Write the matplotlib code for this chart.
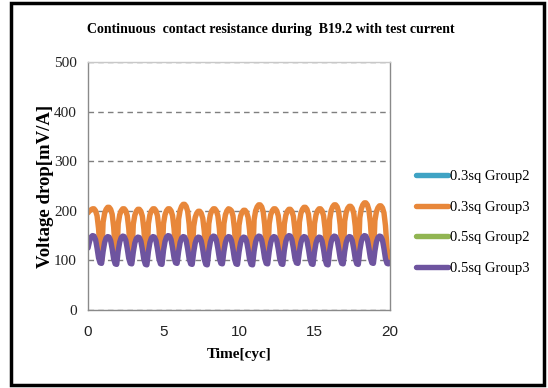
import numpy as np
import matplotlib
matplotlib.use("Agg")
import matplotlib.pyplot as plt
from matplotlib.patches import Rectangle

# ---- data -------------------------------------------------------------
time_cyc = np.linspace(0, 20, 201)          # sampled every 0.1 cycle

series_names = ["0.3sq Group2", "0.3sq Group3", "0.5sq Group2", "0.5sq Group3"]

# 0.3sq Group2 and 0.5sq Group2 carry no readings
g2_03 = []
g2_05 = []

# 0.3sq Group3, one row per cycle (10 samples), plus the final sample at 20
g3_03 = [
    196, 200, 202, 204, 204, 200, 190, 164, 119, 99,
    177, 195, 203, 207, 207, 203, 193, 167, 122, 102,
    174, 192, 200, 204, 204, 200, 190, 164, 119, 99,
    173, 191, 199, 203, 203, 199, 189, 163, 118, 98,
    174, 192, 200, 204, 204, 200, 190, 164, 119, 99,
    174, 192, 200, 204, 204, 200, 190, 164, 119, 100,
    183, 201, 209, 213, 213, 209, 199, 173, 128, 103,
    169, 187, 195, 199, 199, 195, 185, 159, 114, 97,
    174, 192, 200, 204, 204, 200, 190, 164, 119, 99,
    174, 192, 200, 204, 203, 200, 190, 164, 119, 100,
    171, 189, 197, 201, 201, 197, 187, 161, 116, 98,
    182, 200, 208, 212, 212, 208, 198, 172, 127, 103,
    174, 192, 200, 204, 204, 200, 190, 164, 119, 99,
    173, 191, 199, 203, 203, 199, 189, 163, 118, 98,
    177, 195, 203, 207, 207, 203, 193, 167, 122, 101,
    174, 192, 200, 204, 204, 200, 190, 164, 119, 99,
    182, 200, 208, 212, 212, 208, 198, 172, 127, 102,
    179, 197, 205, 209, 209, 205, 195, 169, 124, 101,
    186, 204, 212, 216, 216, 212, 202, 176, 131, 104,
    180, 198, 206, 210, 210, 206, 196, 170, 125, 101,
    108,
]

# 0.5sq Group3
g3_05 = [
    125, 138, 147, 150, 149, 142, 125, 105, 95, 94,
    118, 136, 145, 148, 147, 140, 123, 103, 93, 92,
    119, 137, 146, 149, 148, 141, 124, 104, 94, 93,
    117, 135, 144, 147, 146, 139, 122, 102, 92, 91,
    118, 136, 145, 148, 147, 140, 123, 103, 93, 92,
    120, 138, 147, 150, 149, 142, 125, 105, 95, 94,
    118, 136, 145, 148, 147, 140, 123, 103, 93, 92,
    117, 135, 144, 147, 146, 139, 122, 102, 92, 91,
    119, 137, 146, 149, 148, 141, 124, 104, 94, 93,
    118, 136, 145, 148, 147, 140, 123, 103, 93, 92,
    117, 135, 144, 147, 146, 139, 122, 102, 92, 91,
    119, 137, 146, 149, 148, 141, 124, 104, 94, 93,
    118, 136, 145, 148, 147, 140, 123, 103, 93, 92,
    120, 138, 147, 150, 149, 142, 125, 105, 95, 94,
    118, 136, 145, 148, 147, 140, 123, 103, 93, 92,
    117, 135, 144, 147, 146, 139, 122, 102, 92, 91,
    119, 137, 146, 149, 148, 141, 124, 104, 94, 93,
    118, 136, 145, 148, 147, 140, 123, 103, 93, 92,
    120, 138, 147, 150, 149, 142, 125, 105, 95, 94,
    119, 137, 146, 149, 148, 141, 124, 104, 94, 93,
    96,
]

x_ticks = [0, 5, 10, 15, 20]
y_ticks = [0, 100, 200, 300, 400, 500]

colors = ["#3FA3C4", "#E8873A", "#91B552", "#6E549F"]

SERIF = "Liberation Serif"
SANS = "Liberation Sans"

# ---- figure -----------------------------------------------------------
fig = plt.figure(figsize=(5.48, 3.88), dpi=100)
fig.patch.set_facecolor("white")

ax = fig.add_axes([88 / 548, 1 - 310 / 388, (390 - 88) / 548, (310 - 62) / 388])

all_series = [
    (time_cyc[:len(g2_03)], g2_03),
    (time_cyc[:len(g3_03)], g3_03),
    (time_cyc[:len(g2_05)], g2_05),
    (time_cyc[:len(g3_05)], g3_05),
]
handles = []
for (xs, ys), name, c in zip(all_series, series_names, colors):
    h, = ax.plot(xs, ys, color=c, lw=3.9, label=name,
                 solid_joinstyle="round", solid_capstyle="round")
    handles.append(h)

ax.set_xlim(0, 20)
ax.set_ylim(0, 500)
ax.set_xticks(x_ticks)
ax.set_yticks(y_ticks)
ax.tick_params(axis="x", length=0, pad=11)
ax.tick_params(axis="y", length=0, pad=8)
for lab in ax.get_xticklabels():
    lab.set_fontfamily(SANS)
    lab.set_fontsize(11)
    lab.set_color("#222222")
for lab in ax.get_yticklabels():
    lab.set_fontfamily(SERIF)
    lab.set_fontsize(11)
    lab.set_color("#222222")

# dashed horizontal gridlines
ax.yaxis.grid(True, linestyle=(0, (4, 3)), color="#7f7f7f", lw=1.0)
ax.set_axisbelow(True)
for s in ax.spines.values():
    s.set_color("#8a8a8a")
    s.set_linewidth(1.0)
ax.spines["top"].set_color("#c8c8c8")

ax.set_xlabel("Time[cyc]", fontfamily=SERIF, fontweight="bold", fontsize=11, labelpad=6)
ax.set_ylabel("Voltage drop[mV/A]", fontfamily=SERIF, fontweight="bold", fontsize=13.5, labelpad=0)

fig.text(0.495, 1 - 29 / 388,
         "Continuous  contact resistance during  B19.2 with test current",
         ha="center", va="center", fontfamily=SERIF, fontweight="bold", fontsize=10)

leg = fig.legend(handles=handles, loc="center left",
                 bbox_to_anchor=(416 / 548, 1 - 222.5 / 388),
                 frameon=False, borderpad=0, borderaxespad=0,
                 handlelength=2.2, handletextpad=0.15, labelspacing=1.18,
                 prop={"family": SERIF, "size": 10.5})

# outer chart border
fig.patches.append(Rectangle((11 / 548, 3 / 388), (544 - 11) / 548, (385 - 3) / 388,
                             transform=fig.transFigure, fill=False,
                             edgecolor="black", lw=2.5, zorder=10))

fig.savefig("out.png", dpi=100, facecolor="white")
